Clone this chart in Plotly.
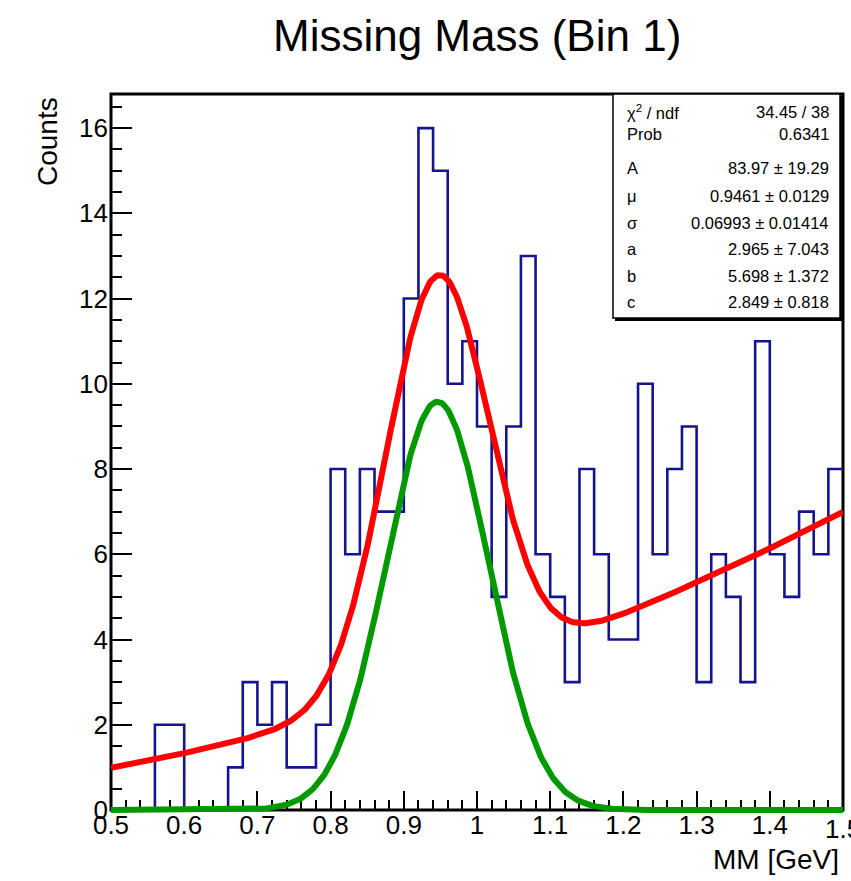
import numpy as np
import plotly.graph_objects as go

# Missing-mass histogram: 50 bins of 0.02 GeV from 0.5 to 1.5 GeV
bin_low = 0.5
bin_width = 0.02
counts = [0, 0, 0, 2, 2, 0, 0, 0, 1, 3,
          2, 3, 1, 1, 2, 8, 6, 8, 7, 7,
          12, 16, 15, 10, 11, 9, 5, 9, 13, 6,
          5, 3, 8, 6, 4, 4, 10, 6, 8, 9,
          3, 6, 5, 3, 11, 6, 5, 7, 6, 8]

# Fit parameters: Gaussian signal (A, mu, sigma) + quadratic background (a, b, c)
fit_A = 83.97
fit_mu = 0.9461
fit_sigma = 0.06993
fit_a = 2.965
fit_b = 5.698
fit_c = 2.849

stat_names = ["χ<sup>2</sup> / ndf", "Prob", "A", "μ", "σ", "a", "b", "c"]
stat_values = ["34.45 / 38", "0.6341", "83.97 ± 19.29", "0.9461 ± 0.0129",
               "0.06993 ± 0.01414", "2.965 ± 7.043", "5.698 ± 1.372", "2.849 ± 0.818"]

x_tick_vals = [0.5, 0.6, 0.7, 0.8, 0.9, 1.0, 1.1, 1.2, 1.3, 1.4, 1.5]
x_tick_text = ["0.5", "0.6", "0.7", "0.8", "0.9", "1", "1.1", "1.2", "1.3", "1.4", "1.5"]
y_tick_vals = [0, 2, 4, 6, 8, 10, 12, 14, 16]
y_tick_text = ["0", "2", "4", "6", "8", "10", "12", "14", "16"]

FONT = "Liberation Sans, Arial, Helvetica, sans-serif"
W, H = 851, 881
ML, MR, MT, MB = 111, 8, 94, 65
PW, PH = W - ML - MR, H - MT - MB
EXT = 6                      # drawing area extends a few px below the x axis
Y_MAX = 16.8
ppu = (PH - EXT) / Y_MAX
X_LABEL_Y = 829              # vertical centre of the x tick labels (px)


def px_x(p):
    return (p - ML) / PW


def px_y(p):
    return (H - MB - p) / PH


# Histogram outline
edges = bin_low + bin_width * np.arange(len(counts) + 1)
step_y = list(counts) + [counts[-1]]

# Fit curves
xs = np.linspace(0.5, 1.5, 601)
gauss = fit_A * bin_width / (np.sqrt(2 * np.pi) * fit_sigma) * np.exp(-0.5 * ((xs - fit_mu) / fit_sigma) ** 2)
bkg = fit_a + fit_b * (xs - fit_mu) + fit_c * (xs - fit_mu) ** 2
total = gauss + bkg

fig = go.Figure()
# invisible anchor trace so the framed axes subplot is built
fig.add_trace(go.Scatter(x=[0.5], y=[0], mode="markers", marker=dict(opacity=0),
                         xaxis="x", yaxis="y", hoverinfo="skip"))
fig.add_trace(go.Scatter(x=edges, y=step_y, mode="lines", line_shape="hv",
                         line=dict(color="#14148f", width=2.6), xaxis="x", yaxis="y2",
                         hoverinfo="skip"))
fig.add_trace(go.Scatter(x=xs, y=total, mode="lines",
                         line=dict(color="#ff0000", width=6), xaxis="x", yaxis="y2",
                         hoverinfo="skip"))
fig.add_trace(go.Scatter(x=xs, y=gauss, mode="lines",
                         line=dict(color="#009900", width=6), xaxis="x", yaxis="y2",
                         hoverinfo="skip"))

# the last x label sits on the page edge; it is drawn as an annotation so it
# is clipped by the page rather than dropped
axis_x_text = x_tick_text[:-1] + [""]

fig.update_layout(
    width=W, height=H,
    margin=dict(l=ML, r=MR, t=MT, b=MB, pad=0, autoexpand=False),
    paper_bgcolor="white",
    plot_bgcolor="rgba(0,0,0,0)",
    showlegend=False,
    hovermode=False,
    font=dict(family=FONT, color="black"),
    xaxis=dict(
        range=[0.5, 1.5], domain=[0, 1], anchor="y", automargin=False,
        showgrid=False, zeroline=False, showline=False,
        ticks="inside", ticklen=19, tickwidth=2, tickcolor="black",
        tickvals=x_tick_vals, ticktext=axis_x_text,
        tickfont=dict(size=26, family=FONT, color="black"),
        ticklabelstandoff=-3,
        minor=dict(tick0=0.5, dtick=0.02, ticks="inside", ticklen=10,
                   tickwidth=2, tickcolor="black", showgrid=False),
    ),
    yaxis=dict(
        range=[0, Y_MAX], domain=[EXT / PH, 1], anchor="x", automargin=False,
        showgrid=False, zeroline=False, showline=False,
        ticks="inside", ticklen=21, tickwidth=2, tickcolor="black",
        tickvals=y_tick_vals, ticktext=y_tick_text,
        tickfont=dict(size=26, family=FONT, color="black"),
        ticklabelstandoff=2,
        minor=dict(tick0=0, dtick=0.5, ticks="inside", ticklen=11,
                   tickwidth=2, tickcolor="black", showgrid=False),
    ),
    yaxis2=dict(
        range=[-EXT / ppu, Y_MAX], domain=[0, 1], anchor="x",
        visible=False, showgrid=False, zeroline=False,
    ),
)

shapes = [
    # plot frame
    dict(type="rect", xref="x domain", yref="y domain", x0=0, x1=1, y0=0, y1=1,
         line=dict(color="black", width=3), fillcolor="rgba(0,0,0,0)", layer="below"),
    # statistics box with shadow
    dict(type="rect", xref="paper", yref="paper",
         x0=px_x(615), x1=px_x(843), y0=px_y(321), y1=px_y(96),
         line=dict(width=0), fillcolor="black", layer="above"),
    dict(type="rect", xref="paper", yref="paper",
         x0=px_x(613), x1=px_x(840), y0=px_y(318), y1=px_y(94),
         line=dict(color="black", width=1.5), fillcolor="white", layer="above"),
]
fig.update_layout(shapes=shapes)

row_centers = [111.5, 134.5, 168.5, 195.5, 222.5, 249, 276, 302]
annotations = []
for name, val, yc in zip(stat_names, stat_values, row_centers):
    annotations.append(dict(text=name, xref="paper", yref="paper",
                            x=px_x(625), y=px_y(yc), xanchor="left", yanchor="middle",
                            showarrow=False, font=dict(size=16.5, family=FONT, color="black")))
    annotations.append(dict(text=val, xref="paper", yref="paper",
                            x=px_x(831), y=px_y(yc), xanchor="right", yanchor="middle",
                            showarrow=False, font=dict(size=16.5, family=FONT, color="black")))

annotations.append(dict(text=x_tick_text[-1], xref="x", yref="paper",
                        x=x_tick_vals[-1], y=px_y(X_LABEL_Y), xanchor="center", yanchor="middle",
                        showarrow=False, font=dict(size=26, family=FONT, color="black")))
annotations.append(dict(text="Missing Mass (Bin 1)", xref="paper", yref="paper",
                        x=px_x(477), y=px_y(35), xanchor="center", yanchor="middle",
                        showarrow=False, font=dict(size=44, family=FONT, color="black")))
annotations.append(dict(text="Counts", xref="paper", yref="paper", textangle=-90,
                        x=px_x(47.5), y=px_y(95), xanchor="center", yanchor="top",
                        showarrow=False, font=dict(size=28, family=FONT, color="black")))
annotations.append(dict(text="MM [GeV]", xref="paper", yref="paper",
                        x=px_x(841), y=px_y(859), xanchor="right", yanchor="middle",
                        showarrow=False, font=dict(size=28, family=FONT, color="black")))
fig.update_layout(annotations=annotations)

fig.write_html("out.html")
